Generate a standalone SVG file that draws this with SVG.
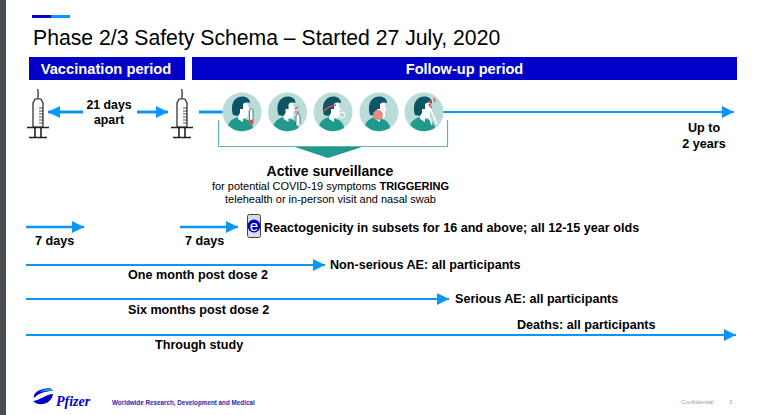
<svg xmlns="http://www.w3.org/2000/svg" width="760" height="415" viewBox="0 0 760 415">
<style>
text{font-family:"Liberation Sans",Arial,sans-serif;fill:#000}
.b{font-weight:bold}
.m{text-anchor:middle}
.l12{font-size:12.600px;font-weight:bold}
.ar{stroke:#0a96f5;fill:none}
.s{fill:none;stroke:#222;stroke-width:1.2}
.disc{fill:#b9dcd8}
.hair{fill:#0d5566}
.body{fill:#1f9a8c}
.face{fill:#fff}
</style>
<defs>
<marker id="ah" markerUnits="userSpaceOnUse" markerWidth="12" markerHeight="12" refX="12" refY="6" orient="auto"><path d="M0 0L12 6L0 12Z" fill="#0a96f5"/></marker>
<g id="syr">
<path class="s" d="M0 -23C-1 -21 1 -20 0 -18V-13M-3 -13H3L5 -9V15H-5V-9Z"/>
<path class="s" style="stroke-width:.8" d="M1 -4H5M1 -1H5M1 2H5M1 5H5M1 8H5M1 11H5"/>
<path d="M-11 15.500H11M-9 25.500H9M-3 15.500V25.500M3 15.500V25.500" fill="none" stroke="#222" stroke-width="1.600"/>
</g>
<g id="head">
<circle r="19.500" class="disc"/>
<path class="body" d="M-14 13C-11 7-7 6-4 5L6 8C9 10 11 13 11 16A19.500 19.500 0 0 1 -14 13Z"/>
<path class="face" d="M-4 7V-2H-6V-10H5C6 -6 7 -3 8 -2L6 -1V3C6 6 3 6 1 6L1 10Z"/>
<path class="hair" d="M-9 3C-12 -6 -9 -15 0 -15.500C5 -15.500 8 -13 8 -9C3 -10 1 -9 1 -7V-3H-2V1L-4 4Z"/>
</g>
</defs>

<g id="frame">
<rect x="0" y="0" width="6" height="415" fill="#4b4f52"/>
<rect x="32" y="15" width="19" height="3" fill="#0000c9"/>
<rect x="51" y="15" width="19" height="3" fill="#0a96f5"/>
<text x="33" y="45" font-size="21.200">Phase 2/3 Safety Schema – Started 27 July, 2020</text>
</g>

<g id="vaccination-period">
<rect x="29" y="57" width="156" height="23" fill="#0000c9"/>
<text x="106" y="74" font-size="14.700" class="b m" style="fill:#fff">Vaccination period</text>
</g>
<g id="followup-period">
<rect x="192" y="57" width="545" height="23" fill="#0000c9"/>
<text x="464.500" y="74" font-size="14.600" class="b m" style="fill:#fff">Follow-up period</text>
</g>

<g id="connectors">
<path class="ar" stroke-width="3" d="M83 112H48" marker-end="url(#ah)"/>
<path class="ar" stroke-width="3" d="M137 112H168" marker-end="url(#ah)"/>
<path class="ar" stroke-width="3" d="M199 112H225"/>
<path class="ar" stroke-width="2" d="M440 112H734" marker-end="url(#ah)"/>
<path class="ar" stroke-width="2.500" d="M26 227H84" marker-end="url(#ah)"/>
<path class="ar" stroke-width="2.500" d="M180 227H238" marker-end="url(#ah)"/>
<path class="ar" stroke-width="2" d="M26 265H325" marker-end="url(#ah)"/>
<path class="ar" stroke-width="2" d="M26 299H449" marker-end="url(#ah)"/>
<path class="ar" stroke-width="2" d="M26 335H736" marker-end="url(#ah)"/>
</g>

<g id="dose-1"><use href="#syr" x="38" y="112"/></g>
<g id="dose-2"><use href="#syr" x="182" y="112"/></g>
<g id="interval-label">
<text x="109" y="109" class="m" font-size="12.300" font-weight="bold">21 days</text>
<text x="109" y="124" class="m" font-size="12.300" font-weight="bold">apart</text>
</g>

<g id="symptom-fever"><use href="#head" x="242" y="112"/>
<rect x="249.500" y="109" width="3.500" height="13" rx="1.700" fill="#fff" stroke="#0d5566" stroke-width=".7"/><circle cx="251.200" cy="122" r="2.500" fill="#d9534f"/></g>
<g id="symptom-cough"><use href="#head" x="287.500" y="112"/>
<path d="M295 109l3-2M295 112l4 0" stroke="#d9534f" stroke-width="1.200" fill="none"/><path d="M296 126V116l2-3 2 3V124" fill="#fff" stroke="#0d5566" stroke-width=".7"/></g>
<g id="symptom-breath"><use href="#head" x="333" y="112"/>
<path d="M324 111C327 107 331 106 336 105" stroke="#d9534f" stroke-width="1.300" fill="none"/><circle cx="342" cy="115" r="3" fill="none" stroke="#fff"/></g>
<g id="symptom-throat"><use href="#head" x="379" y="112"/>
<circle cx="378" cy="115" r="5" fill="#e58b7b"/></g>
<g id="symptom-headache"><use href="#head" x="424" y="112"/>
<path d="M429 100l2 4-2 1 3 3M434 98l1 4" stroke="#d9534f" stroke-width="1.300" fill="none"/><path d="M430 108L437 124M427 110L432 125" stroke="#fff" stroke-width="1.500"/></g>

<g id="active-surveillance">
<path d="M218.500 120V146.500H447.500V120" fill="none" stroke="#5fb5ac" stroke-width="1.200"/>
<path d="M295 147H362L328 158Z" fill="#1f9a8c"/>
<text x="330" y="176" font-size="14" class="b m">Active surveillance</text>
<text x="330.500" y="190" font-size="11" class="m">for potential COVID-19 symptoms <tspan class="b">TRIGGERING</tspan></text>
<text x="330.500" y="203" font-size="11" class="m">telehealth or in-person visit and nasal swab</text>
</g>

<g id="reactogenicity">
<rect x="247.500" y="214.500" width="13" height="23" rx="2" fill="#ddd" stroke="#444"/>
<circle cx="254" cy="226" r="6.500" fill="#0000c9"/>
<text x="254" y="231" font-size="15" class="m" style="fill:#fff">e</text>
<text x="264" y="232" class="l12">Reactogenicity in subsets for 16 and above; all 12-15 year olds</text>
<text x="35" y="245" class="l12">7 days</text>
<text x="185" y="245" class="l12">7 days</text>
</g>
<g id="non-serious-ae">
<text x="330" y="269" class="l12">Non-serious AE: all participants</text>
<text x="128" y="279" class="l12">One month post dose 2</text>
</g>
<g id="serious-ae">
<text x="455" y="303" class="l12">Serious AE: all participants</text>
<text x="128" y="314" class="l12">Six months post dose 2</text>
</g>
<g id="deaths">
<text x="517" y="329" class="l12">Deaths: all participants</text>
<text x="155" y="349" class="l12">Through study</text>
</g>
<g id="duration">
<text x="704" y="132" class="l12 m">Up to</text>
<text x="704" y="148" class="l12 m">2 years</text>
</g>

<g id="footer">
<path d="M34 398C33 393 38 389 50 388L53 391C45 391 39 393 34 398ZM33 401C41 400 46 394 53 394C52 403 40 408 33 401Z" fill="#0000c9"/>
<path d="M39 392C42 390 47 388 50 388L53 391C47 391 43 391 39 392Z" fill="#0a96f5"/>
<text x="56" y="406" font-size="14" class="b" font-style="italic" style="fill:#0000c9;font-family:'Liberation Serif',serif">Pfizer</text>
<text x="112" y="405" font-size="6.300" class="b" style="fill:#2a1fb5">Worldwide Research, Development and Medical</text>
<text x="681" y="404" font-size="6.200" style="fill:#9aa3ad">Confidential</text>
<text x="729" y="404" font-size="6.200" style="fill:#9aa3ad">3</text>
</g>
</svg>
